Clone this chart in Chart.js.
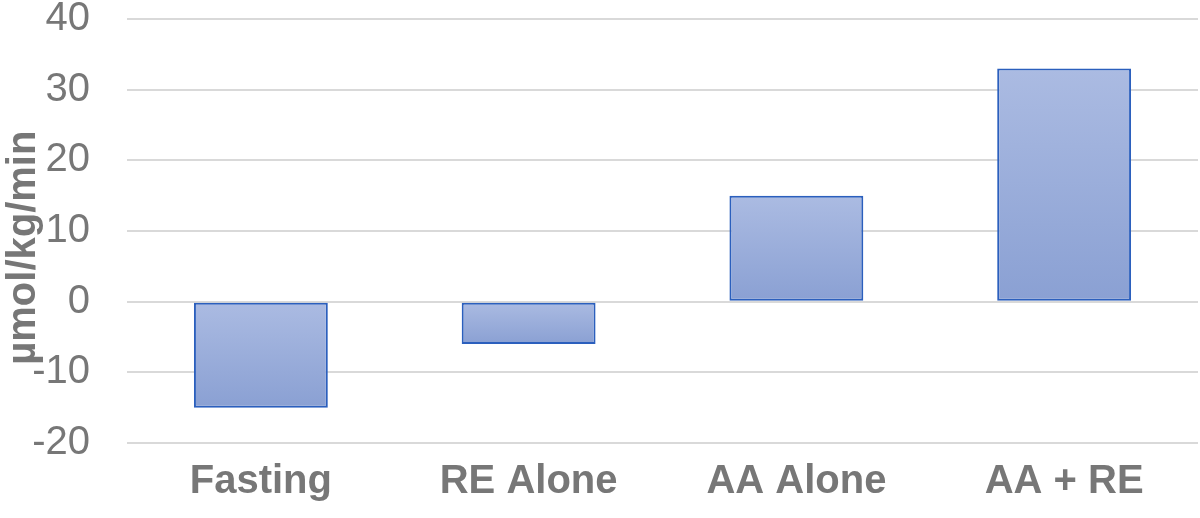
<!DOCTYPE html>
<html>
<head>
<meta charset="utf-8">
<script src="https://cdn.jsdelivr.net/npm/chart.js@4"></script>
<style>
  body { margin: 0; background: #fff; }
  #wrap { width: 1200px; height: 518px; position: relative; }
</style>
</head>
<body>
<div id="wrap"><canvas id="chart"></canvas></div>
<script>
let labels = ['Fasting', 'RE Alone', 'AA Alone', 'AA + RE'];
let values = [-15, -6, 15, 33];
let yTicks = [-20, -10, 0, 10, 20, 30, 40];

function barFill(context) {
	let chart = context.chart;
	let area = chart.chartArea;
	if (!area) return '#9aade0';
	let y = chart.scales.y;
	let v = values[context.dataIndex];
	let top = y.getPixelForValue(Math.max(v, 0));
	let bottom = y.getPixelForValue(Math.min(v, 0));
	let g = chart.ctx.createLinearGradient(0, top, 0, bottom);
	g.addColorStop(0, '#abbbe2');
	g.addColorStop(1, '#8aa0d3');
	return g;
}

new Chart(document.querySelector('#chart'), {
	type: 'bar',
	data: {
		labels: labels,
		datasets: [{
			data: values,
			backgroundColor: barFill,
			borderColor: '#2b5fbd',
			borderWidth: 2,
			borderSkipped: false,
			barPercentage: 0.5,
			categoryPercentage: 1
		}]
	},
	options: {
		responsive: true,
		maintainAspectRatio: false,
		animation: { duration: 0 },
		layout: { padding: { top: 19, right: 2, left: 0, bottom: 0 } },
		plugins: {
			legend: { display: false },
			tooltip: { enabled: false }
		},
		scales: {
			x: {
				grid: { display: false, drawTicks: false },
				border: { display: false },
				ticks: {
					color: '#777777',
					padding: 15,
					font: { family: 'Liberation Sans', size: 40, weight: 'bold' }
				},
				afterFit: (axis) => {
					axis.height = 75;
					axis.paddingLeft = 0;
					axis.paddingRight = 0;
				}
			},
			y: {
				min: yTicks[0],
				max: yTicks[yTicks.length - 1],
				afterBuildTicks: (axis) => { axis.ticks = yTicks.map(v => ({ value: v })); },
				grid: { color: '#d9d9d9', lineWidth: 2, drawTicks: false },
				border: { display: false },
				ticks: {
					color: '#777777',
					padding: 37,
					font: { family: 'Liberation Sans', size: 40 }
				},
				title: {
					display: true,
					// trailing spaces nudge the rotated title down like the original
					text: 'µmol/kg/min\u00a0\u00a0\u00a0',
					color: '#777777',
					padding: { top: 0, bottom: 0 },
					font: { family: 'Liberation Sans', size: 40, weight: 'bold' }
				},
				afterFit: (axis) => {
					axis.width = 127;
					axis.paddingTop = 0;
					axis.paddingBottom = 0;
				}
			}
		}
	}
});
</script>
</body>
</html>
